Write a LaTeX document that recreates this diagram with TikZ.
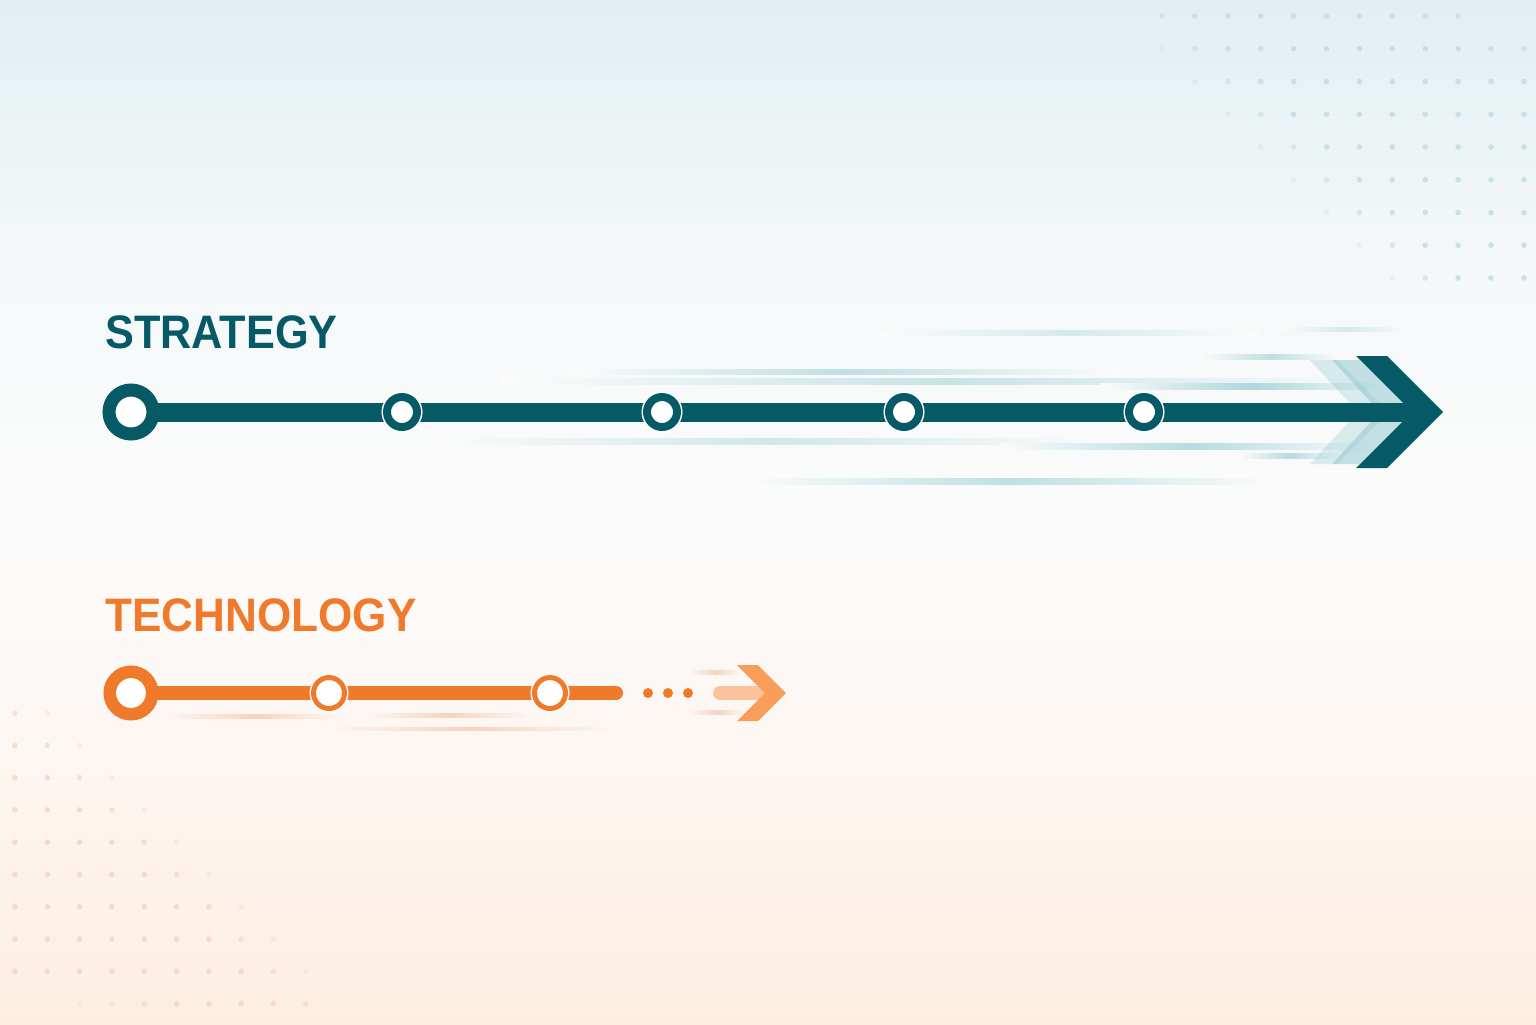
\documentclass[tikz,border=0pt]{standalone}
\usepackage{fontspec}
\newfontfamily\railfont[FakeStretch=0.92]{Liberation Sans}
\usepackage{tikz}
\usetikzlibrary{backgrounds}

\definecolor{stratTeal}{HTML}{055A66}
\definecolor{stratGhost}{HTML}{8CC6CD}
\definecolor{stratStreak}{HTML}{A6D3D9}
\definecolor{techOrange}{HTML}{F07A2B}
\definecolor{techBar}{HTML}{FCC29B}
\definecolor{techHead}{HTML}{F89D5A}
\definecolor{techStreak}{HTML}{F7D3BD}
\definecolor{bgTop}{HTML}{E2EEF1}
\definecolor{bgUp}{HTML}{F4F8F9}
\definecolor{bgMid}{HTML}{FBFBFB}
\definecolor{bgLow}{HTML}{FDF6F1}
\definecolor{bgBot}{HTML}{FDEDE1}
\definecolor{dotTeal}{HTML}{C3DFE4}
\definecolor{dotPeach}{HTML}{FAD6C2}

\pgfdeclareverticalshading{backdrop}{100bp}{color(0bp)=(bgBot); color(25bp)=(bgBot); color(37.5bp)=(bgLow); color(50bp)=(bgMid); color(62.5bp)=(bgUp); color(75bp)=(bgTop); color(100bp)=(bgTop)}

\begin{document}
\begin{tikzpicture}[x=0.5pt,y=-0.5pt]
    \tikzstyle{railtext} = [font=\railfont\bfseries\fontsize{23.5}{28}\selectfont, inner sep=0pt, anchor=base west]
    \tikzstyle{stratstart} = [circle, draw=stratTeal, line width=6.5pt, fill=white, minimum size=22pt, inner sep=0pt]
    \tikzstyle{stratstop} = [circle, draw=stratTeal, line width=4pt, fill=white, minimum size=15pt, inner sep=0pt, preaction={draw=white, line width=5.5pt}]
    \tikzstyle{techstart} = [circle, draw=techOrange, line width=6.25pt, fill=white, minimum size=21.25pt, inner sep=0pt]
    \tikzstyle{techstop} = [circle, draw=techOrange, line width=2.5pt, fill=white, minimum size=15.5pt, inner sep=0pt, preaction={draw=white, line width=4pt}]
    \tikzstyle{techdot} = [circle, fill=techOrange, minimum size=5pt, inner sep=0pt]
    \tikzstyle{stratline} = [draw=stratTeal, line width=9.5pt]
    \tikzstyle{techline} = [draw=techOrange, line width=7pt, line cap=round]
    \useasboundingbox (0,0) rectangle (1536,1024);

    \node[railtext, text=stratTeal] (stratlabel) at (105,348) {STRATEGY};
    \node[stratstart] (s0) at (131,412) {};
    \foreach \n/\x in {1/402,2/662,3/904,4/1144} {
        \node[stratstop] (s\n) at (\x,412) {};
    }
    \coordinate (sEnd) at (1420,412);

    \node[railtext, text=techOrange, xscale=1.02, transform shape] (techlabel) at (105,631) {TECHNOLOGY};
    \node[techstart] (t0) at (131,693) {};
    \foreach \n/\x in {1/329,2/550} {
        \node[techstop] (t\n) at (\x,693) {};
    }
    \coordinate (tEnd) at (616,693);
    \foreach \n/\x in {1/648,2/668,3/688} {
        \node[techdot] (d\n) at (\x,693) {};
    }
    \coordinate (tBar) at (720,693);
    \coordinate (tHead) at (770,693);

    \begin{scope}[on background layer]
        \shade[shading=backdrop] (0,0) rectangle (1536,1024);
        \foreach \i in {0,...,11} {
            \foreach \j in {0,...,8} {
                \pgfmathsetmacro\op{0.9*max(0,min(1,(\i-\j+2)/3))*max(0,min(1,9.8-\i+2*\j))}
                \fill[dotTeal, fill opacity=\op] (1162+32.9*\i, 16+32.75*\j) circle (1.4pt);
            }
        }
        \foreach \i in {0,...,9} {
            \foreach \j in {0,...,9} {
                \pgfmathsetmacro\op{0.9*max(0,min(1,(\j-\i+2)/2.5))*((\j<9) ? 1 : max(0,min(1,(\i-1)/4)))}
                \fill[dotPeach, fill opacity=\op] (15+32.3*\i, 713+32.3*\j) circle (1.4pt);
            }
        }
        \foreach \y/\xa/\xb/\h/\c in {333/880/1260/2.5/45, 329/1280/1410/2/45, 357/1200/1340/2.5/70, 372/570/1120/2.5/70,
                                      381/500/1390/3/60, 386/1100/1400/3/90, 441/440/1100/3/50, 446/1000/1380/3/80,
                                      456/1240/1340/2.5/80, 481/750/1270/3/70} {
            \shade[left color=bgMid, right color=bgMid, middle color=stratStreak!\c!bgMid] (\xa,\y-\h) rectangle (\xb,\y+\h);
        }
        \foreach \y/\xa/\xb/\h in {716/170/340/2, 715/370/530/2, 729/330/610/1.5, 672/690/740/2, 712/690/745/2} {
            \shade[left color=bgLow, right color=bgLow, middle color=techStreak] (\xa,\y-\h) rectangle (\xb,\y+\h);
        }
        \foreach \dx/\op in {-50/0.3,-28/0.5} {
            \fill[stratGhost, opacity=\op, shift={(\dx,0)}] (1360,360) -- (1387,360) -- (1439,412) -- (1387,464) -- (1360,464) -- (1408,412) -- cycle;
        }
        \draw[stratline] (s0.center) -- (s1.center) -- (s2.center) -- (s3.center) -- (s4.center) -- (sEnd);
        \fill[stratTeal] (1356,356) -- (1387,356) -- (1443,412) -- (1387,468) -- (1356,468) -- (1412,412) -- cycle;
        \draw[techline] (t0.center) -- (t1.center) -- (t2.center) -- (tEnd);
        \draw[techBar, line width=7pt, line cap=round] (tBar) -- (tHead);
        \fill[techHead] (737,665) -- (758,665) -- (786,693) -- (758,721) -- (737,721) -- (765,693) -- cycle;
    \end{scope}
\end{tikzpicture}
\end{document}
